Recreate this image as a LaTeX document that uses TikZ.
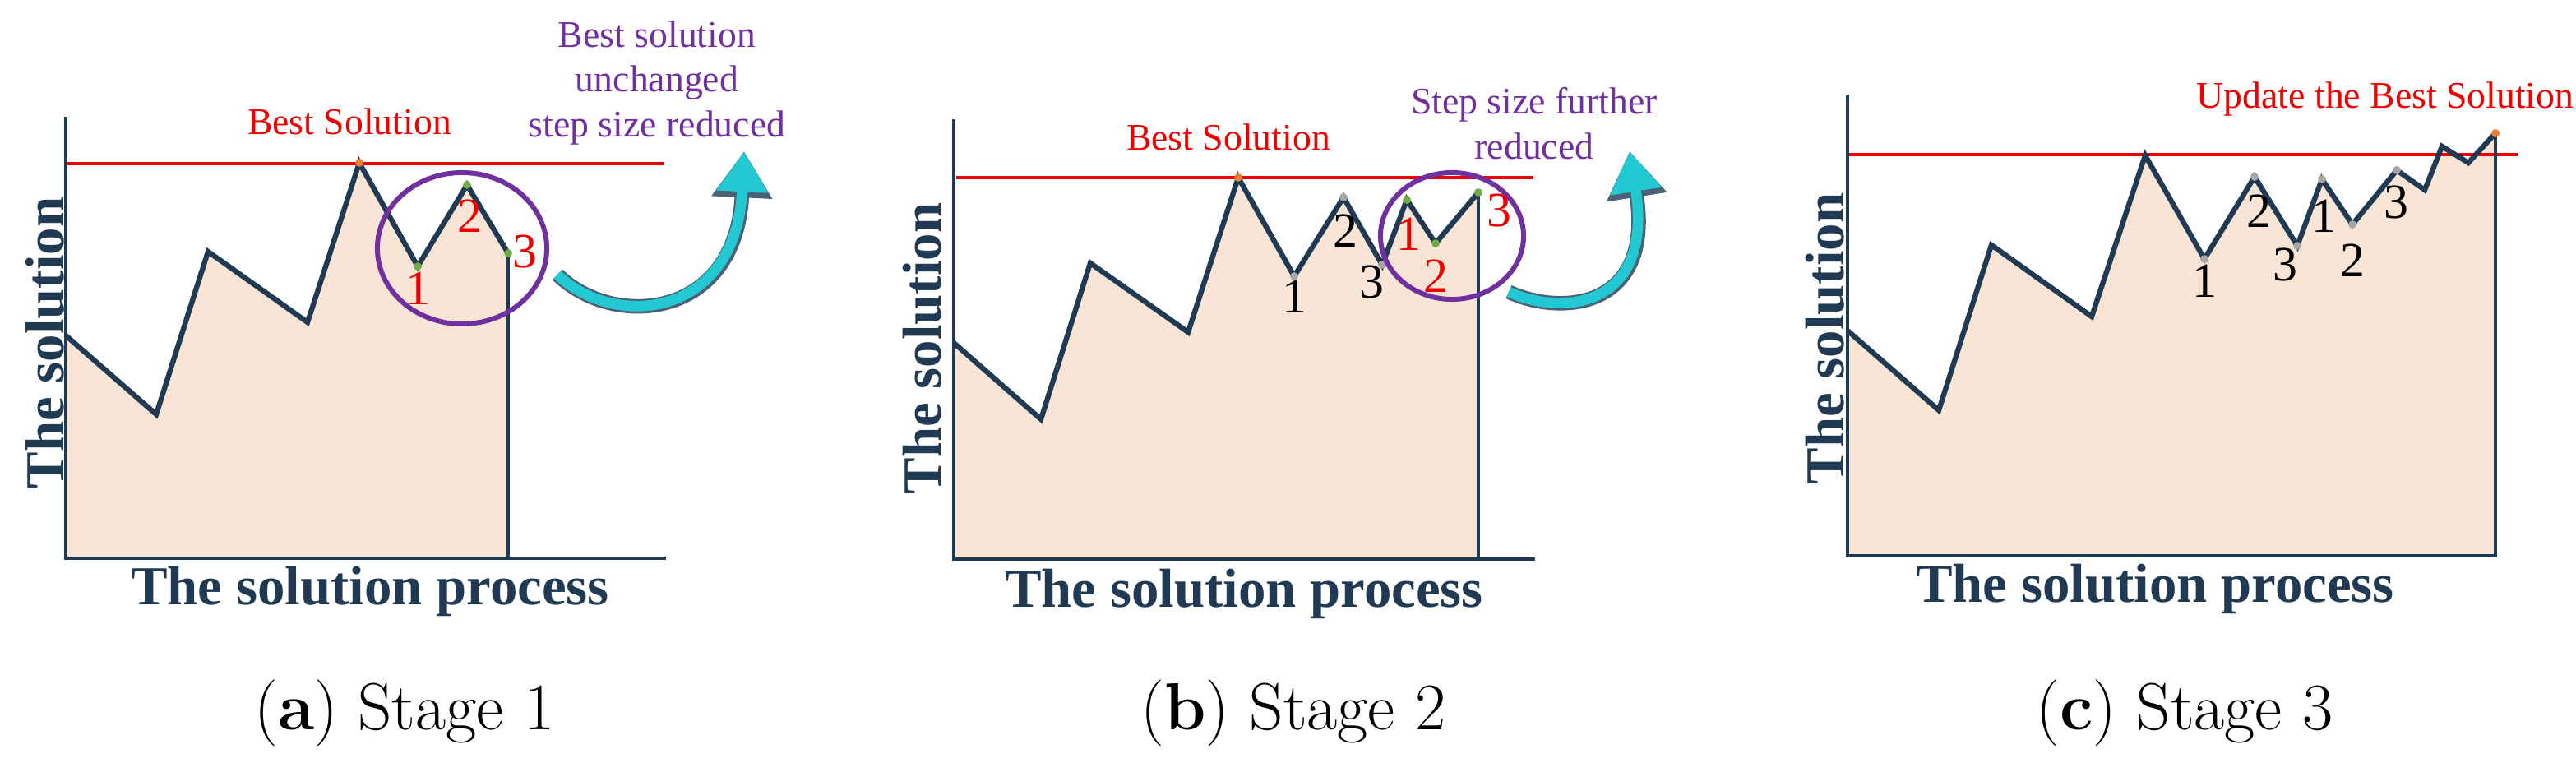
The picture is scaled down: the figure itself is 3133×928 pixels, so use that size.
\documentclass[tikz,border=0pt]{standalone}
\usepackage{fontspec}
\setmainfont{Liberation Serif}
\newfontfamily\capfont{Latin Modern Roman}
\usetikzlibrary{arrows.meta,shapes.geometric}
\definecolor{navy}{HTML}{1F3A52}
\definecolor{fillc}{HTML}{F9E5D6}
\definecolor{purp}{HTML}{7030A0}
\definecolor{redc}{HTML}{EE0000}
\definecolor{cyanc}{HTML}{22C8D2}
\definecolor{orng}{HTML}{ED7D31}
\definecolor{grn}{HTML}{70AD47}
\definecolor{gry}{HTML}{A6A6A6}
\tikzset{
  axisline/.style={draw=navy, line width=1.1pt},
  curveline/.style={draw=navy, line width=1.8pt, line join=miter},
  bestline/.style={draw=redc, line width=0.9pt},
  ring/.style={draw=purp, line width=1.7pt, ellipse, inner sep=0pt},
  dotc/.style={circle, fill=#1, inner sep=0pt, minimum size=2.8pt},
  ylab/.style={font=\fontsize{19}{19}\selectfont\bfseries, text=navy, rotate=90},
  xlab/.style={font=\fontsize{19}{19}\selectfont\bfseries, text=navy},
  redtxt/.style={font=\fontsize{13}{13}\selectfont, text=redc},
  purptxt/.style={font=\fontsize{13}{15.5}\selectfont, text=purp, align=center},
  num/.style={font=\fontsize{17}{17}\selectfont, text=#1},
  captxt/.style={font=\capfont\fontsize{23}{23}\selectfont},
  bigarrow/.style={draw=cyanc, line width=3.6pt, -{Triangle[length=14pt,width=17pt]},
     preaction={draw=navy!80, line width=5pt, -{Triangle[length=16pt,width=20pt]}}}
}
\begin{document}
\begin{tikzpicture}[x=0.01cm,y=-0.01cm]
\useasboundingbox (0,0) rectangle (3133,928);
% ---------- Panel (a)
\fill[fillc] (80,408) -- (190,504) -- (253,306) -- (374,392) -- (437,198) -- (508,324) -- (568,225) -- (618,308) -- (618,679) -- (80,679) -- cycle;
\draw[bestline] (82,199) -- (808,199);
\draw[curveline] (80,408) -- (190,504) -- (253,306) -- (374,392) -- (437,198) -- (508,324) -- (568,225) -- (618,308);
\draw[axisline] (80,142) -- (80,679) -- (810,679);
\draw[axisline] (618,308) -- (618,679);
\node[dotc=orng] (a0) at (437,198) {};
\node[dotc=grn] (a1) at (508,324) {};
\node[dotc=grn] (a2) at (568,225) {};
\node[dotc=grn] (a3) at (618,308) {};
\node[ring, minimum width=2.06cm, minimum height=1.84cm] (ca) at (562,302) {};
\node[num=redc] (na1) at (508,351) {1};
\node[num=redc] (na2) at (571,263) {2};
\node[num=redc] (na3) at (638,306) {3};
\node[redtxt] (ba) at (425,148) {Best Solution};
\node[purptxt] (pa) at (799,101) {Best solution\\unchanged\\step size reduced};
\coordinate (ta) at (678,334);
\coordinate (ea) at (905,184);
\draw[bigarrow] (ta) .. controls (745,400) and (895,390) .. (ea);
\node[ylab] (ya) at (55,417) {The solution};
\node[xlab] (xa) at (450,719) {The solution process};
\node[captxt] (capa) at (492,867) {(\textbf{a}) Stage 1};
% ---------- Panel (b)
\fill[fillc] (1160,417) -- (1266,510) -- (1326,320) -- (1445,404) -- (1506,216) -- (1574,336) -- (1634,240) -- (1681,322) -- (1711,243) -- (1746,296) -- (1798,234) -- (1798,680) -- (1160,680) -- cycle;
\draw[bestline] (1163,216) -- (1865,216);
\draw[curveline] (1160,417) -- (1266,510) -- (1326,320) -- (1445,404) -- (1506,216) -- (1574,336) -- (1634,240) -- (1681,322) -- (1711,243) -- (1746,296) -- (1798,234);
\draw[axisline] (1160,145) -- (1160,680) -- (1867,680);
\draw[axisline] (1798,234) -- (1798,680);
\node[dotc=orng] (b0) at (1506,216) {};
\node[dotc=gry] (b1) at (1574,336) {};
\node[dotc=gry] (b2) at (1634,240) {};
\node[dotc=gry] (b3) at (1681,322) {};
\node[dotc=grn] (b4) at (1711,243) {};
\node[dotc=grn] (b5) at (1746,296) {};
\node[dotc=grn] (b6) at (1798,234) {};
\node[ring, minimum width=1.74cm, minimum height=1.54cm] (cb) at (1766,287) {};
\node[num=black] (nb1) at (1574,361) {1};
\node[num=black] (nb2) at (1636,281) {2};
\node[num=black] (nb3) at (1668,343) {3};
\node[num=redc] (nb4) at (1713,285) {1};
\node[num=redc] (nb5) at (1746,336) {2};
\node[num=redc] (nb6) at (1823,256) {3};
\node[redtxt] (bb) at (1494,167) {Best Solution};
\node[purptxt] (pb) at (1866,150) {Step size further\\reduced};
\coordinate (tb) at (1835,355);
\coordinate (eb) at (1982,184);
\draw[bigarrow] (tb) .. controls (1900,385) and (2012,375) .. (eb);
\node[ylab] (yb) at (1122,424) {The solution};
\node[xlab] (xb) at (1513,722) {The solution process};
\node[captxt] (capb) at (1573,867) {(\textbf{b}) Stage 2};
% ---------- Panel (c)
\fill[fillc] (2247,402) -- (2358,499) -- (2422,298) -- (2544,385) -- (2609,189) -- (2681,315) -- (2742,215) -- (2794,299) -- (2824,218) -- (2861,273) -- (2915,207) -- (2949,231) -- (2970,178) -- (3002,198) -- (3035,162) -- (3035,676) -- (2247,676) -- cycle;
\draw[bestline] (2249,188) -- (3062,188);
\draw[curveline] (2247,402) -- (2358,499) -- (2422,298) -- (2544,385) -- (2609,189) -- (2681,315) -- (2742,215) -- (2794,299) -- (2824,218) -- (2861,273) -- (2915,207) -- (2949,231) -- (2970,178) -- (3002,198) -- (3035,162);
\draw[axisline] (2247,115) -- (2247,676) -- (3035,676) -- (3035,162);
\node[dotc=gry] (c1) at (2681,315) {};
\node[dotc=gry] (c2) at (2742,215) {};
\node[dotc=gry] (c3) at (2794,299) {};
\node[dotc=gry] (c4) at (2824,218) {};
\node[dotc=gry] (c5) at (2861,273) {};
\node[dotc=gry] (c6) at (2915,207) {};
\node[dotc=orng] (c7) at (3035,162) {};
\node[num=black] (nc1) at (2681,342) {1};
\node[num=black] (nc2) at (2747,257) {2};
\node[num=black] (nc3) at (2779,322) {3};
\node[num=black] (nc4) at (2826,263) {1};
\node[num=black] (nc5) at (2861,317) {2};
\node[num=black] (nc6) at (2914,246) {3};
\node[redtxt] (bc) at (2901,121) {Update the Best Solution};
\node[ylab] (yc) at (2220,412) {The solution};
\node[xlab] (xc) at (2621,716) {The solution process};
\node[captxt] (capc) at (2657,867) {(\textbf{c}) Stage 3};
\end{tikzpicture}
\end{document}
